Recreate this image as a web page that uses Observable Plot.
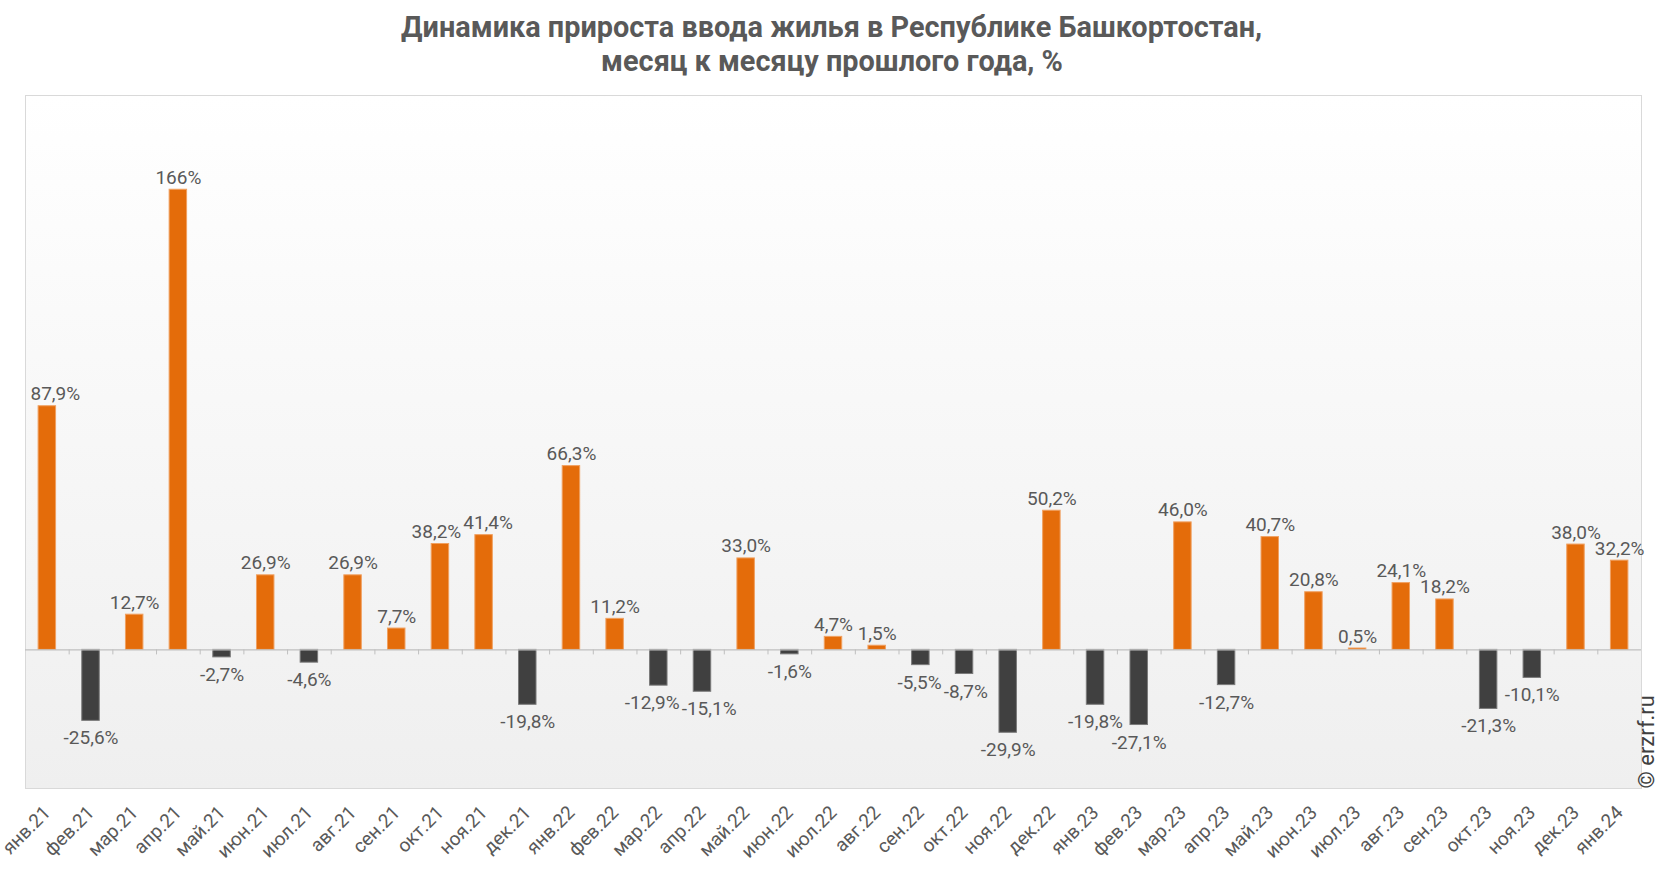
<!DOCTYPE html>
<html>
<head>
<meta charset="utf-8">
<script src="https://cdn.jsdelivr.net/npm/d3@7"></script>
<script src="https://cdn.jsdelivr.net/npm/@observablehq/plot@0.6"></script>
<style>
  html, body { margin: 0; padding: 0; background: #ffffff; overflow: hidden; }
  #title {
    height: 80px; box-sizing: border-box; padding-top: 10px;
    text-align: center; font-family: Roboto, sans-serif;
    font-weight: bold; font-size: 29px; line-height: 34px; color: #595959;
  }
  #title span { display: inline-block; white-space: nowrap; transform-origin: 50% 50%; }
</style>
</head>
<body>
<div id="title"><span id="t1">Динамика прироста ввода жилья в Республике Башкортостан,</span><br><span id="t2">месяц к месяцу прошлого года, %</span></div>
<div id="chart"></div>
<script>
const months = ["янв.21","фев.21","мар.21","апр.21","май.21","июн.21","июл.21","авг.21","сен.21","окт.21","ноя.21","дек.21",
  "янв.22","фев.22","мар.22","апр.22","май.22","июн.22","июл.22","авг.22","сен.22","окт.22","ноя.22","дек.22",
  "янв.23","фев.23","мар.23","апр.23","май.23","июн.23","июл.23","авг.23","сен.23","окт.23","ноя.23","дек.23","янв.24"];
const values = [87.9,-25.6,12.7,166,-2.7,26.9,-4.6,26.9,7.7,38.2,41.4,-19.8,
  66.3,11.2,-12.9,-15.1,33.0,-1.6,4.7,1.5,-5.5,-8.7,-29.9,50.2,
  -19.8,-27.1,46.0,-12.7,40.7,20.8,0.5,24.1,18.2,-21.3,-10.1,38.0,32.2];
const labels = ["87,9%","-25,6%","12,7%","166%","-2,7%","26,9%","-4,6%","26,9%","7,7%","38,2%","41,4%","-19,8%",
  "66,3%","11,2%","-12,9%","-15,1%","33,0%","-1,6%","4,7%","1,5%","-5,5%","-8,7%","-29,9%","50,2%",
  "-19,8%","-27,1%","46,0%","-12,7%","40,7%","20,8%","0,5%","24,1%","18,2%","-21,3%","-10,1%","38,0%","32,2%"];
const yDomain = [-50, 200];
const credit = "© erzrf.ru";

// Fit the title (Roboto bold, squeezed like a condensed face)
const t1 = document.getElementById("t1"), t2 = document.getElementById("t2");
const sx = 861 / t1.getBoundingClientRect().width;
t1.style.transform = `scaleX(${sx})`;
t2.style.transform = `scaleX(${sx})`;

const data = months.map((m, i) => ({month: m, value: values[i], label: labels[i], i}));

const W = 1664, H = 792;
const mL = 25, mR = 23, mT = 15, mB = 84;
const step = (W - mL - mR) / months.length;
const pxPerUnit = (H - mT - mB) / (yDomain[1] - yDomain[0]);
const LABEL_FONT = 19;
const HALF_BAR = 0.2; // bar half-width as a fraction of a category slot

// Label collision avoidance (like the spreadsheet's own nudging)
const ctx = document.createElement("canvas").getContext("2d");
ctx.font = `${LABEL_FONT}px Roboto`;
const widths = labels.map(l => ctx.measureText(l).width);
const shift = labels.map(() => 0);
for (let i = 0; i < data.length - 1; i++) {
  const a = data[i], b = data[i + 1];
  if ((a.value >= 0) !== (b.value >= 0)) continue;
  if (Math.abs(a.value - b.value) * pxPerUnit > 15) continue;
  const overlap = (widths[i] + widths[i + 1]) / 2 + 2 - step;
  if (overlap > 0) { shift[i] -= overlap / 2; shift[i + 1] += overlap / 2; }
}
data.forEach((d, i) => {
  const left = step * (i + 0.5) + shift[i] - widths[i] / 2;
  if (left < 5) shift[i] += 5 - left;
});

const labelMarks = data.map((d, i) => Plot.text([d], {
  x: "i", y: "value", text: "label",
  lineAnchor: d.value >= 0 ? "bottom" : "top", dy: d.value >= 0 ? -6 : 10, dx: shift[i],
  fontSize: LABEL_FONT, fill: "#595959"
}));

const chart = Plot.plot({
  width: W, height: H,
  marginLeft: mL, marginRight: mR, marginTop: mT, marginBottom: mB,
  style: {fontFamily: "Roboto, sans-serif", background: "transparent", overflow: "visible"},
  x: {domain: [-0.5, months.length - 0.5], axis: null},
  y: {domain: yDomain, axis: null},
  marks: [
    Plot.frame({fill: "url(#bgGrad)", stroke: "#d9d9d9", strokeWidth: 1}),
    Plot.rectY(data, {x1: d => d.i - HALF_BAR, x2: d => d.i + HALF_BAR, y: "value",
      fill: d => d.value >= 0 ? "#e46c0a" : "#404040",
      stroke: d => d.value >= 0 ? "#f0a060" : "#7a7a7a", strokeWidth: 1}),
    Plot.ruleY([0], {stroke: "#bfbfbf", strokeWidth: 1.2}),
    Plot.ruleX(d3.range(1, months.length), {x: d => d - 0.5, y1: 0, y2: -5 / pxPerUnit, stroke: "#bfbfbf", strokeWidth: 1}),
    ...labelMarks,
    Plot.axisX({ticks: d3.range(months.length), tickFormat: i => months[i], tickRotate: -45, tickSize: 0,
      tickPadding: 21, fontSize: 19, color: "#595959", label: null}),
    Plot.text([credit], {frameAnchor: "bottom-right", text: d => d, rotate: -90, textAnchor: "start", dx: 12,
      fontSize: 22, fill: "#404040"})
  ]
});

const ns = "http://www.w3.org/2000/svg";
const defs = document.createElementNS(ns, "defs");
const grad = document.createElementNS(ns, "linearGradient");
grad.setAttribute("id", "bgGrad");
grad.setAttribute("x1", "0"); grad.setAttribute("y1", "0");
grad.setAttribute("x2", "0"); grad.setAttribute("y2", "1");
[["0%", "#ffffff"], ["100%", "#efefef"]].forEach(([o, c]) => {
  const s = document.createElementNS(ns, "stop");
  s.setAttribute("offset", o); s.setAttribute("stop-color", c);
  grad.appendChild(s);
});
defs.appendChild(grad);
chart.insertBefore(defs, chart.firstChild);
document.getElementById("chart").appendChild(chart);
</script>
</body>
</html>
